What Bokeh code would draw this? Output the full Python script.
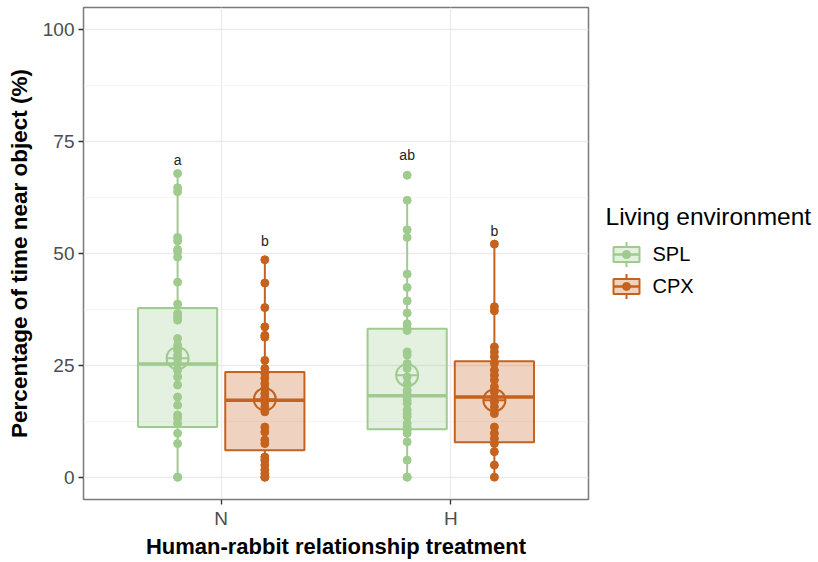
from bokeh.plotting import figure
from bokeh.models import Range1d, FixedTicker
from bokeh.layouts import row
from bokeh.embed import file_html
from bokeh.resources import INLINE
from bokeh.core.properties import value

# ---------------- data ----------------
treatments = ["N", "H"]
environments = ["SPL", "CPX"]

spl_n = [67.9, 64.7, 63.8, 53.6, 52.8, 50.9, 50.4, 49.2, 43.6, 38.7, 36.6, 35.8,
         35.1, 31.0, 29.5, 28.3, 27.3, 26.5, 25.4, 23.9, 22.4, 20.6, 17.9, 16.1,
         13.9, 13.1, 12.0, 9.8, 7.5, 0.0, 0.0]
cpx_n = [48.6, 43.4, 37.9, 33.6, 31.7, 31.3, 26.1, 24.3, 23.2, 22.1, 20.9, 19.8,
         18.7, 17.9, 16.8, 15.7, 14.6, 11.2, 10.1, 8.3, 7.5, 4.5, 3.8, 2.7, 1.6,
         0.8, 0.0, 0.0]
spl_h = [67.5, 61.9, 55.3, 53.6, 45.4, 42.4, 39.4, 36.7, 34.3, 33.2, 32.8, 28.0,
         27.3, 25.4, 24.3, 22.4, 20.9, 19.4, 18.6, 17.9, 17.2, 16.5, 15.0, 14.2,
         13.5, 12.0, 11.2, 10.5, 9.8, 7.9, 3.8, 0.0, 0.0]
cpx_h = [52.1, 38.1, 37.2, 29.1, 28.0, 26.9, 25.4, 23.9, 22.8, 21.7, 20.2, 19.1,
         17.9, 16.8, 15.7, 14.2, 11.2, 9.8, 8.6, 7.5, 5.7, 2.7, 0.0]

# order of groups: SPL-N, CPX-N, SPL-H, CPX-H
group_treatment = ["N", "N", "H", "H"]
group_env = ["SPL", "CPX", "SPL", "CPX"]
group_points = [spl_n, cpx_n, spl_h, cpx_h]
q1 = [11.2, 6.0, 10.7, 7.8]
median = [25.3, 17.2, 18.2, 17.9]
q3 = [37.8, 23.5, 33.2, 25.9]
whisk_lo = [0.0, 0.0, 0.0, 0.0]
whisk_hi = [67.9, 48.6, 61.9, 52.1]
means = [26.6, 17.4, 22.8, 17.2]
letters = ["a", "b", "ab", "b"]
letter_y = [70.8, 52.7, 72.0, 55.0]

y_ticks = [0, 25, 50, 75, 100]
y_minor = [12.5, 37.5, 62.5, 87.5]

# ---------------- style ----------------
FONT = "Liberation Sans"
colors = {"SPL": "#9fcb8e", "CPX": "#c5621e"}
dodge = {"SPL": -0.19, "CPX": 0.19}
box_w = 0.345
treat_pos = {t: i + 1 for i, t in enumerate(treatments)}

H_FIG = 561
TOP = 7
BOTTOM = 61

p = figure(width=603, height=H_FIG, x_range=Range1d(0.4, 2.6), y_range=Range1d(-5, 105),
           output_backend="svg", toolbar_location=None,
           min_border_left=83, min_border_right=15, min_border_top=TOP, min_border_bottom=0)
p.background_fill_color = "white"
p.border_fill_color = "white"
p.outline_line_color = "#7a7a7a"
p.outline_line_width = 1.5

p.xaxis.ticker = FixedTicker(ticks=[treat_pos[t] for t in treatments])
p.xaxis.major_label_overrides = {treat_pos[t]: t for t in treatments}
p.yaxis.ticker = FixedTicker(ticks=y_ticks, minor_ticks=y_minor)

for ax in (p.xaxis[0], p.yaxis[0]):
    ax.axis_line_color = None
    ax.major_tick_in = 0
    ax.major_tick_out = 5
    ax.major_tick_line_color = "#333333"
    ax.major_tick_line_width = 1.3
    ax.minor_tick_line_color = None
    ax.major_label_text_font = FONT
    ax.major_label_text_font_size = "19px"
    ax.major_label_text_color = "#4d4d4d"
    ax.major_label_standoff = 4
    ax.axis_label_text_font = FONT
    ax.axis_label_text_font_size = "22px"
    ax.axis_label_text_font_style = "bold"
    ax.axis_label_text_color = "black"

p.xaxis.axis_label = "Human-rabbit relationship treatment"
p.yaxis.axis_label = "Percentage of time near object (%)"
p.yaxis.axis_label_text_font_size = "22.5px"
p.xaxis.major_label_standoff = 3
p.xaxis.axis_label_standoff = 2
p.yaxis.axis_label_standoff = 8

p.xgrid.grid_line_color = "#ebebeb"
p.xgrid.grid_line_width = 1.3
p.ygrid.grid_line_color = "#ebebeb"
p.ygrid.grid_line_width = 1.3
p.ygrid.minor_grid_line_color = "#f3f3f3"
p.ygrid.minor_grid_line_width = 0.8

for i in range(4):
    env = group_env[i]
    c = colors[env]
    xc = treat_pos[group_treatment[i]] + dodge[env]
    # box
    p.quad(left=[xc - box_w / 2], right=[xc + box_w / 2], bottom=[q1[i]], top=[q3[i]],
           fill_color=c, fill_alpha=0.28, line_color=c, line_width=2)
    # whiskers
    p.segment(x0=[xc, xc], y0=[q3[i], q1[i]], x1=[xc, xc], y1=[whisk_hi[i], whisk_lo[i]],
              line_color=c, line_width=2)
    # median
    p.segment(x0=[xc - box_w / 2], y0=[median[i]], x1=[xc + box_w / 2], y1=[median[i]],
              line_color=c, line_width=3.5)
    # mean
    p.scatter(x=[xc], y=[means[i]], marker="circle_cross", size=22, fill_color=None,
              line_color=c, line_width=2)
    # points
    pts = group_points[i]
    p.scatter(x=[xc] * len(pts), y=pts, size=8, fill_color=c, line_color=c)
    # letter
    p.text(x=[xc], y=[letter_y[i]], text=[letters[i]], text_font=value(FONT),
           text_font_size="14px", text_align="center", text_baseline="middle",
           text_color="#222222")

# ---------------- legend (separate panel, frame aligned with the plot panel) ----------------
LW = 213
leg = figure(width=LW, height=H_FIG, x_range=Range1d(0, LW),
             y_range=Range1d(H_FIG - BOTTOM, TOP),  # pixel coordinates of the page
             output_backend="svg", toolbar_location=None, x_axis_type=None,
             y_axis_type=None, min_border_left=0, min_border_right=0,
             min_border_top=TOP, min_border_bottom=BOTTOM)
leg.outline_line_color = None
leg.grid.visible = False
leg.background_fill_color = "white"
leg.border_fill_color = "white"

leg.text(x=[2], y=[216], text=["Living environment"], text_font=value(FONT),
         text_font_size="24.5px", text_align="left", text_baseline="middle",
         text_color="black")
key_y = [254.5, 286.5]
for env, ky in zip(environments, key_y):
    c = colors[env]
    leg.quad(left=[10], right=[36], top=[ky - 7.5], bottom=[ky + 7.5],
             fill_color=c, fill_alpha=0.28, line_color=c, line_width=2)
    leg.segment(x0=[23, 23], y0=[ky - 12.5, ky + 7.5], x1=[23, 23], y1=[ky - 7.5, ky + 12.5],
                line_color=c, line_width=2)
    leg.segment(x0=[10], y0=[ky], x1=[36], y1=[ky], line_color=c, line_width=2.5)
    leg.scatter(x=[23], y=[ky], size=8, fill_color=c, line_color=c)
    leg.text(x=[49], y=[ky], text=[env], text_font=value(FONT), text_font_size="20px",
             text_align="left", text_baseline="middle", text_color="black")

layout = row(p, leg)
open("out.html", "w").write(file_html(layout, INLINE))
